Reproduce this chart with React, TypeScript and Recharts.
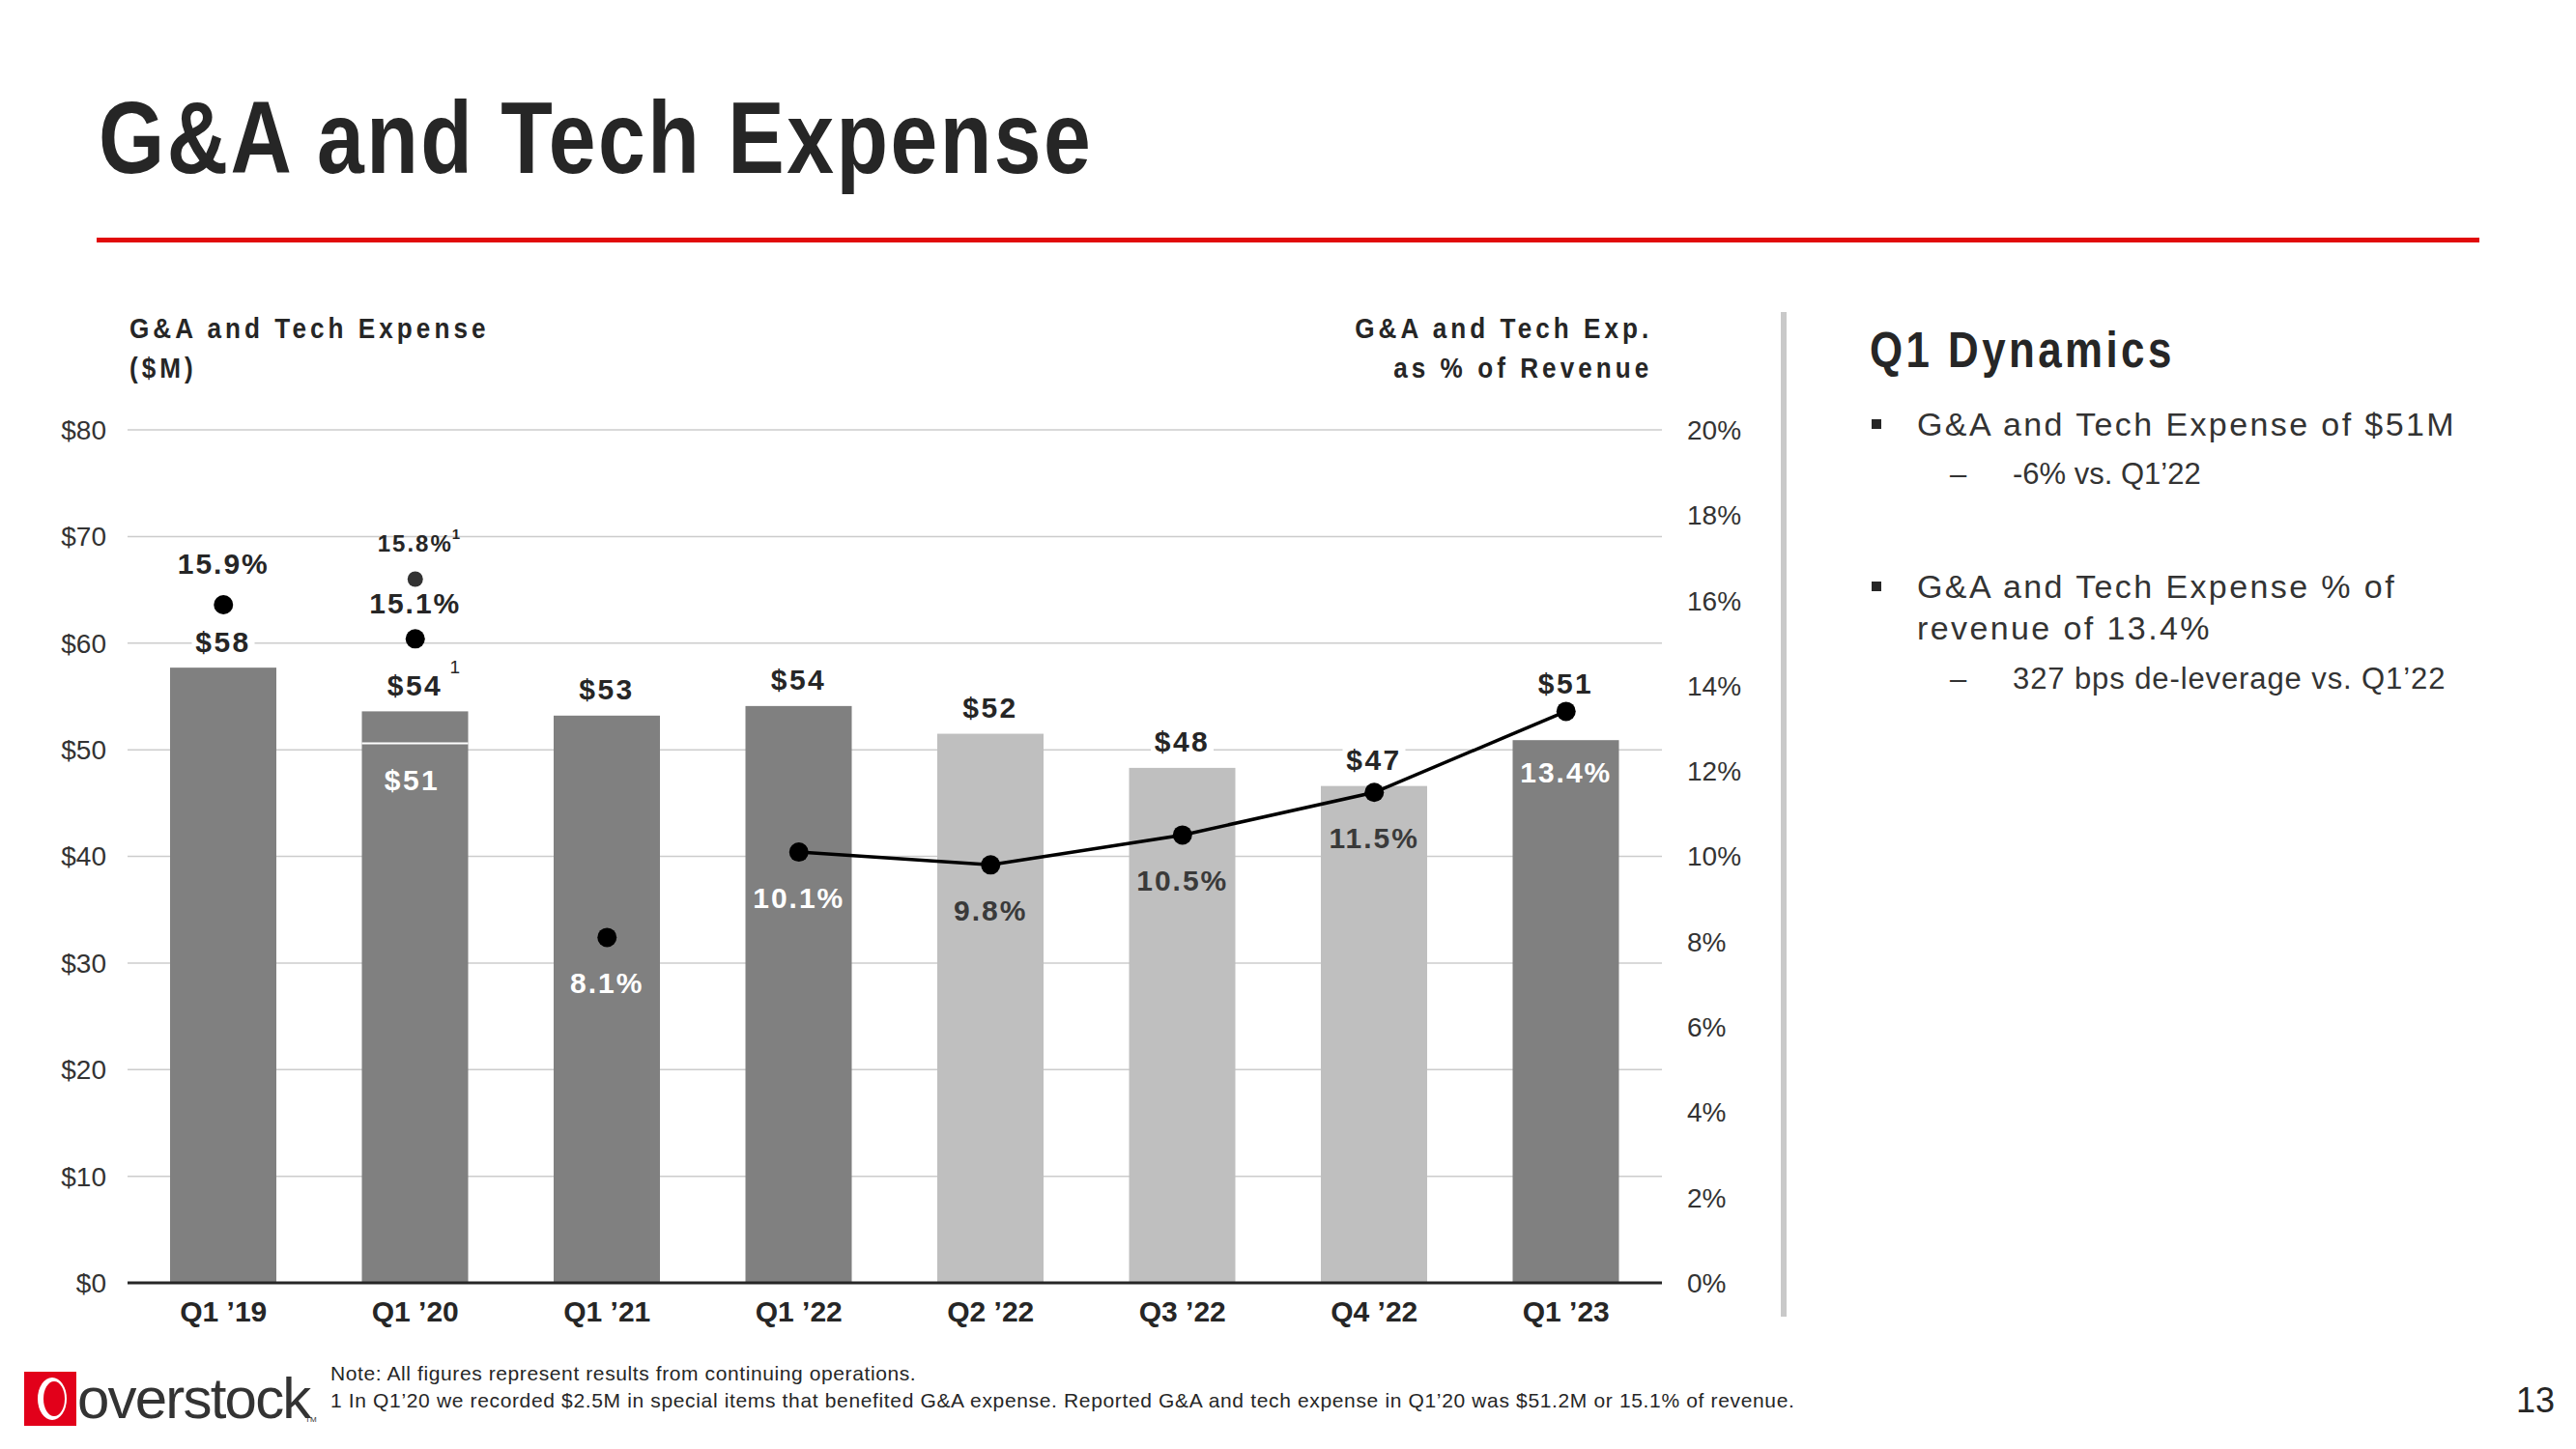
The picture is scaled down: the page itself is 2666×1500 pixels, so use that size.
import React from "react";
import {
  ComposedChart,
  Bar,
  Line,
  XAxis,
  YAxis,
  CartesianGrid,
  LabelList,
} from "recharts";

// ---- data ----
const quarters = ["Q1 ’19", "Q1 ’20", "Q1 ’21", "Q1 ’22", "Q2 ’22", "Q3 ’22", "Q4 ’22", "Q1 ’23"];
const expense = [57.7, 50.6, 53.2, 54.1, 51.5, 48.3, 46.6, 50.9]; // $M (reported)
const specialItems = [0, 3.0, 0, 0, 0, 0, 0, 0]; // $M added back (Q1 '20)
const expenseLabels = ["$58", "$54", "$53", "$54", "$52", "$48", "$47", "$51"];
const pctTrend = [null, null, null, 10.1, 9.8, 10.5, 11.5, 13.4];
const pctEarly = [15.9, 15.1, 8.1, null, null, null, null, null];
const pctAdjusted = [null, 16.5, null, null, null, null, null, null];
const pctLabels = ["15.9%", "15.1%", "8.1%", "10.1%", "9.8%", "10.5%", "11.5%", "13.4%"];
const leftTicks = [0, 10, 20, 30, 40, 50, 60, 70, 80];
const rightTicks = [0, 2, 4, 6, 8, 10, 12, 14, 16, 18, 20];
const lightQuarters = ["Q2 ’22", "Q3 ’22", "Q4 ’22"];

// label placement (px from bar top / dot)
const valueLift: Record<string, number> = { "Q1 ’23": 59 };
const pctOffset: Record<string, number> = { "Q1 ’19": -43, "Q1 ’20": -37, "Q1 ’23": 63 };

const FONT = "'Liberation Sans', Arial, sans-serif";
const INK = "#262626";
const DARK = "#808080";
const LIGHT = "#bfbfbf";

const vbOf = (p: any) => p.viewBox ?? p;

const BarShape = (props: any) => {
  const { x, y, width, height, payload } = props;
  const fill = lightQuarters.includes(payload.quarter) ? LIGHT : DARK;
  const sepY = payload.special > 0 ? y + (height * payload.special) / payload.total : null;
  return (
    <g>
      <rect x={x} y={y} width={width} height={height} fill={fill} />
      {sepY !== null && (
        <line x1={x} x2={x + width} y1={sepY} y2={sepY} stroke="#ffffff" strokeWidth={2} />
      )}
    </g>
  );
};

const ValueLabel = (props: any) => {
  const { x, y, width, height } = vbOf(props);
  const i = props.index;
  const q = quarters[i];
  const cx = x + width / 2;
  const cy = y - (valueLift[q] ?? 27);
  const text = expenseLabels[i];
  const w = text.length * 19 + 8;
  const sp = specialItems[i];
  return (
    <g>
      <rect x={cx - w / 2} y={cy - 17} width={w} height={34} fill="#ffffff" />
      <text
        x={cx}
        y={cy}
        textAnchor="middle"
        dominantBaseline="central"
        fill={INK}
        fontFamily={FONT}
        fontWeight={700}
        fontSize={30}
        style={{ letterSpacing: 2.5 }}
      >
        {text}
      </text>
      {sp > 0 && (
        <>
          <text x={cx + 36} y={cy - 12} fill={INK} fontFamily={FONT} fontSize={19}>
            1
          </text>
          <text
            x={cx - 3}
            y={y + (height * sp) / (expense[i] + sp) + 38}
            textAnchor="middle"
            dominantBaseline="central"
            fill="#ffffff"
            fontFamily={FONT}
            fontWeight={700}
            fontSize={30}
            style={{ letterSpacing: 2.5 }}
          >
            {"$" + Math.round(expense[i])}
          </text>
        </>
      )}
    </g>
  );
};

const PctLabel = (props: any) => {
  if (props.value === null || props.value === undefined) return null;
  const { x, y } = vbOf(props);
  const i = props.index;
  const q = quarters[i];
  const off = pctOffset[q] ?? 47;
  const onBar = off > 0;
  const fill = onBar ? (lightQuarters.includes(q) ? "#3a3a3a" : "#ffffff") : INK;
  return (
    <text
      x={x}
      y={y + off}
      textAnchor="middle"
      dominantBaseline="central"
      fill={fill}
      fontFamily={FONT}
      fontWeight={700}
      fontSize={30}
      style={{ letterSpacing: 2 }}
    >
      {pctLabels[i]}
    </text>
  );
};

const AdjLabel = (props: any) => {
  if (props.value === null || props.value === undefined) return null;
  const { x, y } = vbOf(props);
  return (
    <g>
      <text
        x={x}
        y={y - 37}
        textAnchor="middle"
        dominantBaseline="central"
        fill={INK}
        fontFamily={FONT}
        fontWeight={700}
        fontSize={24}
        style={{ letterSpacing: 2 }}
      >
        15.8%
      </text>
      <text x={x + 38} y={y - 42} fill={INK} fontFamily={FONT} fontSize={15} fontWeight={700}>
        1
      </text>
    </g>
  );
};

const txt = (
  left: number,
  center: number,
  size: number,
  content: React.ReactNode,
  extra: React.CSSProperties = {},
  sx = 1
) => (
  <div
    style={{
      position: "absolute",
      left,
      top: center - size / 2,
      fontSize: size,
      lineHeight: 1,
      fontFamily: FONT,
      color: INK,
      whiteSpace: "nowrap",
      transform: sx !== 1 ? `scaleX(${sx})` : undefined,
      transformOrigin: "left center",
      ...extra,
    }}
  >
    {content}
  </div>
);

export default function App() {
  const data = quarters.map((q, i) => ({
    quarter: q,
    total: expense[i] + specialItems[i],
    special: specialItems[i],
    pctTrend: pctTrend[i],
    pctEarly: pctEarly[i],
    pctAdj: pctAdjusted[i],
  }));

  return (
    <div
      style={{
        position: "absolute",
        left: 0,
        top: 0,
        width: 2666,
        height: 1500,
        background: "#ffffff",
        overflow: "hidden",
      }}
    >
      {/* title */}
      {txt(102, 142, 105, "G&A and Tech Expense", { fontWeight: 700, letterSpacing: 3 }, 0.835)}
      <div
        style={{
          position: "absolute",
          left: 100,
          top: 246,
          width: 2466,
          height: 5,
          background: "#e10a0a",
        }}
      />

      {/* chart headers */}
      {txt(134, 340, 29, "G&A and Tech Expense", { fontWeight: 700, letterSpacing: 4.5 }, 0.9)}
      {txt(134, 381, 29, "($M)", { fontWeight: 700, letterSpacing: 4.5 }, 0.9)}
      <div
        style={{
          position: "absolute",
          right: 2666 - 1710,
          top: 320,
          fontSize: 29,
          lineHeight: "41px",
          fontFamily: FONT,
          fontWeight: 700,
          letterSpacing: 4.5,
          color: INK,
          textAlign: "right",
          whiteSpace: "nowrap",
          transform: "scaleX(0.9)",
          transformOrigin: "right center",
        }}
      >
        G&amp;A and Tech Exp.
        <br />
        as % of Revenue
      </div>

      <div style={{ position: "absolute", left: 0, top: 0 }}>
        <ComposedChart
          width={1900}
          height={1500}
          data={data}
          margin={{ top: 445, right: 0, bottom: 112, left: 0 }}
        >
          <CartesianGrid yAxisId="left" vertical={false} stroke="#cccccc" strokeWidth={1.5} />
          <XAxis
            dataKey="quarter"
            height={60}
            axisLine={{ stroke: INK, strokeWidth: 3 }}
            tickLine={false}
            tickSize={0}
            tickMargin={19}
            tick={{ fill: INK, fontFamily: FONT, fontWeight: 700, fontSize: 30 }}
          />
          <YAxis
            yAxisId="left"
            width={132}
            domain={[0, 80]}
            ticks={leftTicks}
            axisLine={false}
            tickLine={false}
            tickSize={0}
            tickMargin={22}
            tickFormatter={(v: number) => "$" + v}
            tick={{ fill: "#333333", fontFamily: FONT, fontSize: 28 }}
          />
          <YAxis
            yAxisId="right"
            orientation="right"
            width={180}
            domain={[0, 20]}
            ticks={rightTicks}
            axisLine={false}
            tickLine={false}
            tickSize={0}
            tickMargin={26}
            tickFormatter={(v: number) => v + "%"}
            tick={{ fill: "#333333", fontFamily: FONT, fontSize: 28 }}
          />
          <Bar
            yAxisId="left"
            dataKey="total"
            barSize={110}
            shape={BarShape}
            isAnimationActive={false}
          >
            <LabelList dataKey="total" content={ValueLabel} />
          </Bar>
          <Line
            yAxisId="right"
            dataKey="pctTrend"
            stroke="#000000"
            strokeWidth={3.5}
            dot={{ r: 10, fill: "#000000", stroke: "#000000", strokeWidth: 0 }}
            activeDot={false}
            isAnimationActive={false}
          >
            <LabelList dataKey="pctTrend" content={PctLabel} />
          </Line>
          <Line
            yAxisId="right"
            dataKey="pctEarly"
            stroke="none"
            dot={{ r: 10, fill: "#000000", stroke: "#000000", strokeWidth: 0 }}
            activeDot={false}
            isAnimationActive={false}
          >
            <LabelList dataKey="pctEarly" content={PctLabel} />
          </Line>
          <Line
            yAxisId="right"
            dataKey="pctAdj"
            stroke="none"
            dot={{ r: 8, fill: "#333333", stroke: "#333333", strokeWidth: 0 }}
            activeDot={false}
            isAnimationActive={false}
          >
            <LabelList dataKey="pctAdj" content={AdjLabel} />
          </Line>
        </ComposedChart>
      </div>

      {/* divider */}
      <div
        style={{ position: "absolute", left: 1843, top: 323, width: 6, height: 1040, background: "#c9c9c9" }}
      />

      {/* Q1 dynamics panel */}
      {txt(1935, 362, 51, "Q1 Dynamics", { fontWeight: 700, letterSpacing: 4 }, 0.86)}
      <div style={{ position: "absolute", left: 1937, top: 434, width: 10, height: 10, background: INK }} />
      {txt(1984, 439, 34, "G&A and Tech Expense of $51M", { letterSpacing: 2.4, color: "#333" })}
      {txt(2018, 490, 31, "–", { color: "#333" })}
      {txt(2083, 490, 31, "-6% vs. Q1’22", { color: "#333" })}
      <div style={{ position: "absolute", left: 1937, top: 602, width: 10, height: 10, background: INK }} />
      {txt(1984, 607, 34, "G&A and Tech Expense % of", { letterSpacing: 2.4, color: "#333" })}
      {txt(1984, 650, 34, "revenue of 13.4%", { letterSpacing: 2.4, color: "#333" })}
      {txt(2018, 702, 31, "–", { color: "#333" })}
      {txt(2083, 702, 31, "327 bps de-leverage vs. Q1’22", { color: "#333", letterSpacing: 0.9 })}

      {/* footer */}
      <svg style={{ position: "absolute", left: 25, top: 1420 }} width={54} height={56}>
        <rect x={0} y={0} width={54} height={56} fill="#e2001a" />
        <ellipse cx={29} cy={28} rx={15} ry={22} fill="#ffffff" />
        <ellipse cx={31} cy={28} rx={11} ry={18} fill="#e2001a" />
      </svg>
      {txt(80, 1448, 60, "overstock", { color: "#333", letterSpacing: -1.8 })}
      {txt(316, 1470, 8, "TM", { color: "#333" })}
      {txt(342, 1421, 21, "Note: All figures represent results from continuing operations.", {
        letterSpacing: 0.6,
      })}
      {txt(
        342,
        1449,
        21,
        "1 In Q1’20 we recorded $2.5M in special items that benefited G&A expense. Reported G&A and tech expense in Q1’20 was $51.2M or 15.1% of revenue.",
        { letterSpacing: 0.65 }
      )}
      {txt(2604, 1450, 36, "13")}
    </div>
  );
}
